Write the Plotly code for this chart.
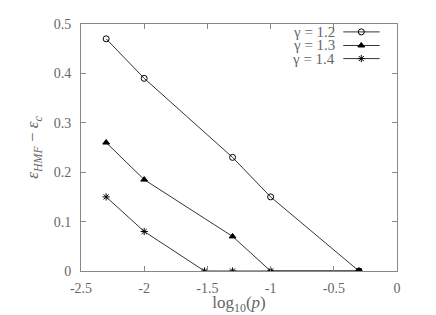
import numpy as np
import plotly.graph_objects as go

# data (x = log10(p))
p12 = [0.005, 0.01, 0.05, 0.1, 0.5]
e12 = [0.47, 0.39, 0.23, 0.15, 0.0]
p13 = [0.005, 0.01, 0.05, 0.1, 0.5]
e13 = [0.26, 0.185, 0.07, 0.0, 0.0]
p14 = [0.005, 0.01, 0.03, 0.05, 0.1, 0.5]
e14 = [0.15, 0.08, 0.0, 0.0, 0.0, 0.0]
labels = ["γ = 1.2", "γ = 1.3", "γ = 1.4"]
symbols = ["circle-open", "triangle-up", "asterisk-open"]

xticks = [-2.5, -2, -1.5, -1, -0.5, 0]
xticktext = ["-2.5", "-2", "-1.5", "-1", "-0.5", "0"]
yticks = [0, 0.1, 0.2, 0.3, 0.4, 0.5]
yticktext = ["0", "0.1", "0.2", "0.3", "0.4", "0.5"]

FONT = "Liberation Serif"
sizes = {"circle-open": 6, "triangle-up": 6, "asterisk-open": 6}
fig = go.Figure()
series = [(p12, e12), (p13, e13), (p14, e14)]
for (p, e), sym in zip(series, symbols):
    fig.add_trace(go.Scatter(
        x=np.log10(p), y=e, mode="lines+markers",
        line=dict(color="black", width=0.8),
        marker=dict(symbol=sym, size=sizes[sym],
                    color="black", line=dict(color="black", width=1)),
        showlegend=False))

# custom gnuplot-style key on an overlay axis (0..1 range)
key_y = [0.968, 0.913, 0.86]
for lab, sym, ky in zip(labels, symbols, key_y):
    fig.add_trace(go.Scatter(
        x=[0.830, 0.887, 0.945], y=[ky, ky, ky], mode="lines",
        line=dict(color="black", width=0.8), xaxis="x2", yaxis="y2",
        showlegend=False, hoverinfo="skip"))
    fig.add_trace(go.Scatter(
        x=[0.887], y=[ky], mode="markers", xaxis="x2", yaxis="y2",
        marker=dict(symbol=sym, size=sizes[sym],
                    color="black", line=dict(color="black", width=1)),
        showlegend=False, hoverinfo="skip"))
    fig.add_annotation(x=0.806, y=ky, xref="x2", yref="y2", text=lab,
                       showarrow=False, xanchor="right", yanchor="middle",
                       borderpad=0,
                       font=dict(family=FONT, size=15, color="#666"))

axcol = "#888888"
fig.update_layout(
    width=436, height=315,
    margin=dict(l=81, r=39, t=24, b=44, autoexpand=False),
    paper_bgcolor="white", plot_bgcolor="white",
    font=dict(family=FONT, size=14, color="#666"),
    xaxis=dict(range=[-2.5, 0], tickvals=xticks, ticktext=xticktext,
               showgrid=False, zeroline=False, showline=True, linecolor=axcol,
               linewidth=1, mirror="allticks", ticks="inside", ticklen=5,
               tickcolor=axcol, ticklabelstandoff=4, automargin=False,
               title=dict(text="log<sub>10</sub>(<i>p</i>)", standoff=8)),
    yaxis=dict(range=[0, 0.5], tickvals=yticks, ticktext=yticktext,
               showgrid=False, zeroline=False, showline=True, linecolor=axcol,
               linewidth=1, mirror="allticks", ticks="inside", ticklen=5,
               tickcolor=axcol, ticklabelstandoff=6, automargin=False,
               title=dict(text="<i>ε<sub>HMF</sub></i> − <i>ε<sub>c</sub></i>", standoff=10)),
    xaxis2=dict(range=[0, 1], overlaying="x", visible=False, fixedrange=True),
    yaxis2=dict(range=[0, 1], overlaying="y", visible=False, fixedrange=True,
                anchor="x2"),
)
fig.write_html("out.html", config={"displayModeBar": False})
with open("out.html", encoding="utf-8") as f:
    html = f.read()
html = html.replace("<head>", "<head><style>html,body{margin:0;padding:0;overflow:hidden}</style>", 1)
with open("out.html", "w", encoding="utf-8") as f:
    f.write(html)
